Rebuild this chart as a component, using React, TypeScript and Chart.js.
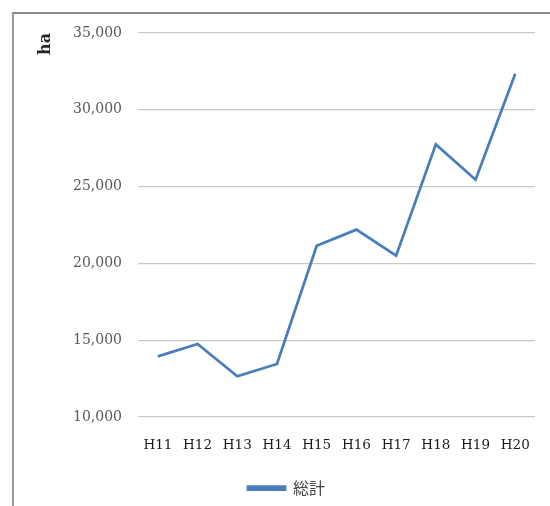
import React, { useEffect, useRef } from "react";
import { Chart, registerables } from "chart.js";

Chart.register(...registerables);

const categories = ["H11", "H12", "H13", "H14", "H15", "H16", "H17", "H18", "H19", "H20"];
const totalValues = [13950, 14750, 12650, 13450, 21150, 22200, 20500, 27750, 25450, 32350];
const seriesName = "総計";
const yTitle = "ha";
const yMin = 10000;
const yMax = 35000;
const yStep = 5000;

export default function App() {
  const ref = useRef<HTMLCanvasElement | null>(null);

  useEffect(() => {
    if (!ref.current) return;
    const chart = new Chart(ref.current, {
      type: "line",
      data: {
        labels: categories,
        datasets: [
          {
            label: seriesName,
            data: totalValues,
            borderColor: "#4a7ebb",
            backgroundColor: "#4a7ebb",
            borderWidth: 2.75,
            pointRadius: 0,
            tension: 0,
          },
        ],
      },
      options: {
        animation: false,
        responsive: false,
        maintainAspectRatio: false,
        layout: { padding: { left: 28, right: 5, top: 33, bottom: 0 } },
        plugins: {
          tooltip: { enabled: false },
          legend: {
            position: "bottom",
            labels: {
              boxWidth: 37,
              boxHeight: 3,
              padding: 9,
              color: "#404040",
              font: { family: "'Noto Sans CJK JP'", size: 16 },
            },
          },
        },
        scales: {
          x: {
            offset: true,
            grid: { display: false, drawTicks: false },
            border: { display: false },
            ticks: {
              padding: 20,
              color: "#1a1a1a",
              maxRotation: 0,
              autoSkip: false,
              font: { family: "'DejaVu Serif'", size: 13.5 },
            },
            afterFit: (scale: any) => {
              scale.height = 54;
            },
          },
          y: {
            min: yMin,
            max: yMax,
            grid: { color: "#c8c8c8", lineWidth: 1.2, drawTicks: false },
            border: { display: false },
            ticks: {
              stepSize: yStep,
              padding: 16,
              color: "#595959",
              font: { family: "'DejaVu Serif'", size: 14 },
              callback: (v: any) => Number(v).toLocaleString("en-US"),
            },
            title: {
              display: true,
              text: yTitle,
              align: "end",
              color: "#262626",
              padding: { top: 8, bottom: 0 },
              font: { family: "'DejaVu Serif'", size: 16, weight: "bold" },
            },
            afterFit: (scale: any) => {
              scale.width = 110;
            },
          },
        },
      },
    });
    return () => chart.destroy();
  }, []);

  return (
    <div>
      <div
        style={{
          position: "absolute",
          left: 12,
          top: 12,
          width: 538,
          height: 494,
          borderLeft: "2px solid #999999",
          borderTop: "2px solid #8c8c8c",
          boxSizing: "border-box",
        }}
      />
      <canvas
        ref={ref}
        width={550}
        height={506}
        style={{ position: "absolute", left: 0, top: 0, width: 550, height: 506 }}
      />
    </div>
  );
}
